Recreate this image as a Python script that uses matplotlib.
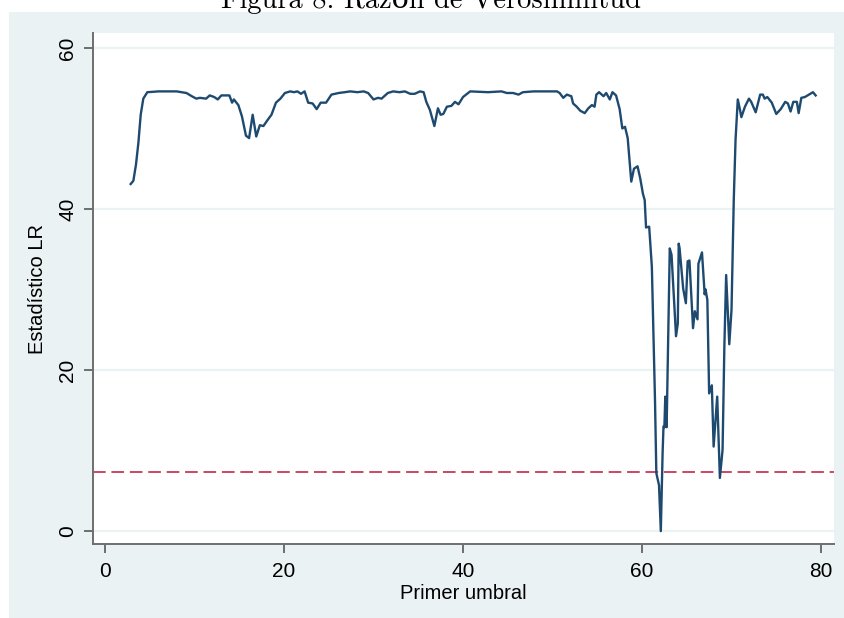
import numpy as np
import matplotlib
matplotlib.use('Agg')
import matplotlib.pyplot as plt
from matplotlib.patches import Rectangle

# Datos: primer umbral vs estadistico LR
umbral = [2.87, 3.17, 3.46, 3.73, 3.99, 4.28, 4.73, 6.0, 8.0, 9.1, 9.7, 10.2, 10.6,
          11.3, 11.7, 12.2, 12.6, 13.0, 13.9, 14.2, 14.4, 14.9, 15.3, 15.75, 16.1,
          16.5, 16.9, 17.3, 17.7, 18.2, 18.6, 19.1, 19.6, 20.1, 20.7, 21.1, 21.5,
          21.9, 22.3, 22.7, 23.2, 23.65, 24.1, 24.7, 25.3, 26.1, 26.8, 27.4, 28.2,
          28.9, 29.4, 30.0, 30.5, 30.9, 31.6, 32.2, 32.9, 33.5, 34.1, 34.6, 35.2,
          35.6, 35.9, 36.3, 36.8, 37.2, 37.5, 37.8, 38.2, 38.7, 39.1, 39.5, 40.0,
          40.8, 42.8, 44.3, 44.9, 45.6, 46.2, 46.7, 47.9, 49.3, 50.5, 50.8, 51.2,
          51.6, 52.1, 52.3, 52.7, 53.1, 53.6, 54.0, 54.4, 54.7, 54.9, 55.2, 55.7,
          56.0, 56.4, 56.7, 57.1, 57.5, 57.8, 58.1, 58.4, 58.8, 59.1, 59.5, 59.8,
          60.1, 60.3, 60.45, 60.8, 61.1, 61.45, 61.6, 61.9, 62.1, 62.3, 62.4, 62.5,
          62.6, 62.75, 63.1, 63.3, 63.8, 64.0, 64.1, 64.2, 64.6, 64.9, 65.1, 65.3,
          65.7, 65.9, 66.2, 66.3, 66.7, 67.0, 67.1, 67.3, 67.5, 67.8, 68.0, 68.4,
          68.7, 69.0, 69.2, 69.4, 69.75, 70.0, 70.25, 70.45, 70.7, 70.95, 71.1,
          71.5, 71.95, 72.2, 72.7, 73.2, 73.5, 73.7, 74.0, 74.5, 75.0, 75.5, 76.0,
          76.3, 76.6, 76.9, 77.3, 77.5, 77.8, 78.2, 78.8, 79.1, 79.4]
estadistico_lr = [43.1, 43.5, 45.5, 48.2, 51.7, 53.7, 54.5, 54.6, 54.6, 54.4, 54.0,
                  53.7, 53.8, 53.7, 54.1, 53.9, 53.6, 54.1, 54.1, 53.2, 53.6, 52.9,
                  51.5, 49.1, 48.8, 51.7, 49.0, 50.4, 50.3, 51.1, 51.7, 53.2, 53.7,
                  54.4, 54.6, 54.5, 54.6, 54.3, 54.6, 53.2, 53.1, 52.4, 53.2, 53.2,
                  54.2, 54.4, 54.5, 54.6, 54.5, 54.6, 54.4, 53.6, 53.8, 53.7, 54.4,
                  54.6, 54.5, 54.6, 54.3, 54.3, 54.6, 54.5, 53.3, 52.3, 50.3, 52.5,
                  51.7, 51.8, 52.7, 52.8, 53.3, 53.0, 53.9, 54.6, 54.5, 54.6, 54.4,
                  54.4, 54.2, 54.5, 54.6, 54.6, 54.6, 54.4, 53.8, 54.2, 54.0, 53.1,
                  52.7, 52.2, 51.9, 52.5, 52.9, 52.7, 54.2, 54.5, 54.0, 54.4, 53.6,
                  54.5, 54.1, 52.4, 50.0, 50.2, 48.8, 43.4, 45.0, 45.3, 43.8, 41.9,
                  41.1, 37.7, 37.8, 32.8, 16.3, 7.2, 5.7, 0.0, 9.7, 13.0, 12.9, 16.7,
                  12.9, 35.1, 34.3, 24.2, 25.8, 35.7, 35.1, 30.1, 28.3, 33.5, 33.6,
                  25.2, 27.3, 26.3, 33.2, 34.6, 29.4, 30.0, 28.7, 17.1, 18.1, 10.5,
                  16.7, 6.6, 10.1, 22.9, 31.8, 23.2, 27.5, 41.1, 48.6, 53.6, 52.3,
                  51.4, 52.7, 53.7, 53.3, 52.0, 54.2, 54.2, 53.7, 53.9, 53.2, 51.8,
                  52.4, 53.3, 53.1, 52.1, 53.3, 53.3, 51.9, 53.8, 53.9, 54.3, 54.5,
                  54.1]
valor_critico = 7.3

x_ticks = [0, 20, 40, 60, 80]
y_ticks = [0, 20, 40, 60]

fondo = '#eaf2f3'
gris = '#6e6e6e'

plt.rcParams['font.family'] = ['Liberation Sans', 'DejaVu Sans']

fig = plt.figure(figsize=(8.44, 6.18), dpi=100, facecolor='white')

# region del grafico (estilo Stata), por detras de los ejes
fig.patches.append(Rectangle((9 / 844, 0), 835 / 844, 606 / 618,
                             transform=fig.transFigure, facecolor=fondo,
                             edgecolor='none', zorder=-10))

fig.text(431 / 844, 1 - 8 / 618, 'Figura 8: Razón de Verosimilitud',
         ha='center', va='baseline', fontsize=20.5,
         family=['cmr10', 'DejaVu Serif'])

ax = fig.add_axes([93 / 844, 1 - 544 / 618, 741 / 844, 511 / 618])
ax.set_facecolor('white')

ax.plot(umbral, estadistico_lr, color='#1f4a70', linewidth=1.7, zorder=3)
ax.axhline(valor_critico, color='#c8385a', linewidth=1.3,
           dashes=(7, 3.2), zorder=2)

ax.set_xlim(-1.34, 81.45)
ax.set_ylim(-1.6, 61.85)
ax.set_xticks(x_ticks)
ax.set_yticks(y_ticks)
ax.yaxis.grid(True, color=fondo, linewidth=1.6, zorder=1)
ax.set_axisbelow(True)

for s in ['top', 'right']:
    ax.spines[s].set_visible(False)
for s in ['left', 'bottom']:
    ax.spines[s].set_color(gris)
    ax.spines[s].set_linewidth(1.4)

ax.tick_params(axis='both', colors=gris, width=1.4, length=6.5,
               labelsize=15, labelcolor='black')
ax.tick_params(axis='x', pad=6.5)
ax.tick_params(axis='y', pad=5)
for lab in ax.get_yticklabels():
    lab.set_rotation(90)
    lab.set_va('center')

ax.set_xlabel('Primer umbral', fontsize=14.5, labelpad=2)
ax.set_ylabel('Estadístico LR', fontsize=14.5, labelpad=8)

fig.savefig('out.png', dpi=100, facecolor='white')
